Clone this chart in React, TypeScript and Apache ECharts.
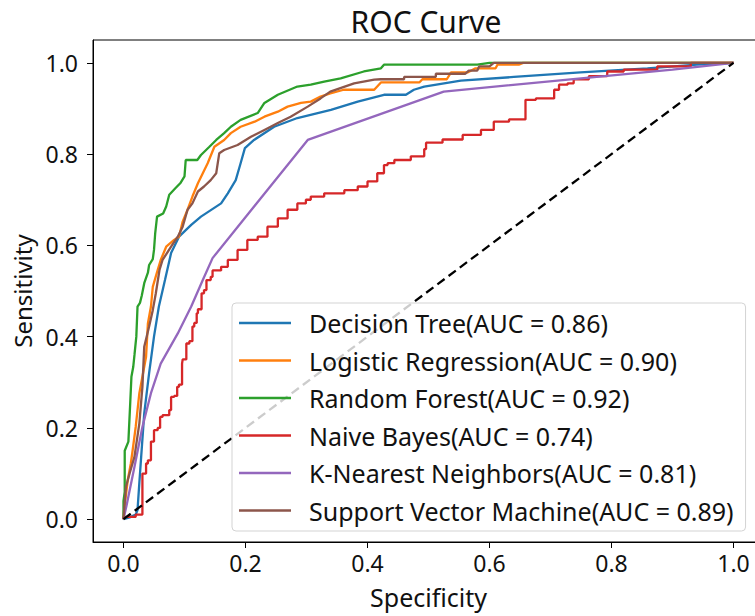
import React, { useEffect, useRef } from 'react';
import * as echarts from 'echarts';

const FONT = '"Noto Sans", "DejaVu Sans", sans-serif';

const seriesNames = [
  'Decision Tree(AUC = 0.86)',
  'Logistic Regression(AUC = 0.90)',
  'Random Forest(AUC = 0.92)',
  'Naive Bayes(AUC = 0.74)',
  'K-Nearest Neighbors(AUC = 0.81)',
  'Support Vector Machine(AUC = 0.89)',
];
const seriesColors = ['#1f77b4', '#ff7f0e', '#2ca02c', '#d62728', '#9467bd', '#8c564b'];
const tickValues = [0, 0.2, 0.4, 0.6, 0.8, 1.0];

// [fpr, tpr] pairs
const decisionTree: number[][] = [
  [0, 0], [0.01, 0.004], [0.02, 0.01], [0.023, 0.02], [0.026, 0.08], [0.029, 0.137], [0.034, 0.232],
  [0.042, 0.32], [0.05, 0.4], [0.058, 0.466], [0.068, 0.524], [0.078, 0.583], [0.091, 0.619],
  [0.111, 0.645], [0.127, 0.663], [0.16, 0.692], [0.171, 0.714], [0.184, 0.743], [0.192, 0.78],
  [0.199, 0.813], [0.214, 0.831], [0.247, 0.86], [0.285, 0.879], [0.34, 0.897], [0.384, 0.915],
  [0.427, 0.93], [0.463, 0.93], [0.476, 0.941], [0.493, 0.948], [0.553, 0.961], [0.64, 0.969],
  [0.749, 0.979], [0.859, 0.988], [0.94, 0.996], [1, 1],
];
const logisticRegression: number[][] = [
  [0, 0], [0.001, 0.02], [0.007, 0.086], [0.012, 0.122], [0.015, 0.151], [0.02, 0.202], [0.026, 0.276],
  [0.031, 0.312], [0.037, 0.356], [0.04, 0.429], [0.045, 0.466], [0.048, 0.509], [0.056, 0.546],
  [0.061, 0.568], [0.07, 0.597], [0.083, 0.612], [0.091, 0.619], [0.097, 0.652], [0.105, 0.678],
  [0.113, 0.707], [0.122, 0.736], [0.13, 0.758], [0.138, 0.78], [0.149, 0.816], [0.165, 0.831],
  [0.176, 0.846], [0.192, 0.86], [0.215, 0.871], [0.231, 0.882], [0.253, 0.893], [0.269, 0.904],
  [0.291, 0.912], [0.307, 0.915], [0.323, 0.926], [0.339, 0.933], [0.361, 0.941], [0.411, 0.941],
  [0.422, 0.957], [0.485, 0.957], [0.49, 0.964], [0.53, 0.964], [0.537, 0.979], [0.564, 0.979],
  [0.577, 0.988], [0.61, 0.988], [0.613, 0.996], [0.648, 0.996], [0.655, 1], [1, 1],
];
const randomForest: number[][] = [
  [0, 0], [0, 0.04], [0.002, 0.06], [0.002, 0.15], [0.008, 0.17], [0.011, 0.254], [0.013, 0.312],
  [0.016, 0.334], [0.018, 0.36], [0.021, 0.4], [0.023, 0.466], [0.027, 0.474], [0.03, 0.49],
  [0.034, 0.517], [0.04, 0.54], [0.042, 0.557], [0.048, 0.57], [0.05, 0.59], [0.052, 0.627],
  [0.055, 0.663], [0.065, 0.67], [0.07, 0.685], [0.075, 0.711], [0.085, 0.725], [0.093, 0.736],
  [0.1, 0.751], [0.102, 0.787], [0.121, 0.787], [0.127, 0.798], [0.14, 0.815], [0.152, 0.831],
  [0.165, 0.846], [0.176, 0.86], [0.192, 0.875], [0.22, 0.89], [0.231, 0.912], [0.253, 0.93],
  [0.285, 0.948], [0.307, 0.952], [0.329, 0.959], [0.356, 0.966], [0.394, 0.981], [0.422, 0.988],
  [0.427, 0.996], [0.58, 0.996], [0.6, 1], [1, 1],
];
const naiveBayes: number[][] = [
  [0, 0], [0.02, 0.005], [0.031, 0.01], [0.031, 0.096], [0.037, 0.1], [0.04, 0.122], [0.045, 0.129],
  [0.045, 0.166], [0.05, 0.17], [0.056, 0.195], [0.06, 0.2], [0.064, 0.224], [0.075, 0.228],
  [0.078, 0.239], [0.083, 0.268], [0.088, 0.27], [0.091, 0.29], [0.096, 0.295], [0.097, 0.341],
  [0.103, 0.35], [0.108, 0.385], [0.113, 0.39], [0.116, 0.422], [0.12, 0.43], [0.122, 0.451],
  [0.128, 0.46], [0.132, 0.495], [0.136, 0.502], [0.143, 0.524], [0.146, 0.531], [0.16, 0.545],
  [0.171, 0.553], [0.187, 0.568], [0.203, 0.59], [0.22, 0.612], [0.236, 0.619], [0.253, 0.641],
  [0.269, 0.659], [0.285, 0.678], [0.299, 0.692], [0.307, 0.7], [0.329, 0.707], [0.362, 0.714],
  [0.384, 0.721], [0.4, 0.729], [0.416, 0.74], [0.427, 0.758], [0.433, 0.776], [0.444, 0.78],
  [0.471, 0.787], [0.493, 0.795], [0.496, 0.811], [0.523, 0.825], [0.556, 0.832], [0.586, 0.842],
  [0.607, 0.853], [0.632, 0.871], [0.659, 0.876], [0.676, 0.919], [0.706, 0.922], [0.714, 0.941],
  [0.728, 0.952], [0.738, 0.955], [0.763, 0.964], [0.793, 0.971], [0.82, 0.981], [0.875, 0.985],
  [0.93, 0.992], [1, 1],
];
const kNearest: number[][] = [
  [0, 0], [0.005, 0.03], [0.018, 0.115], [0.031, 0.202], [0.045, 0.276], [0.061, 0.341],
  [0.089, 0.407], [0.111, 0.466], [0.13, 0.524], [0.146, 0.572], [0.302, 0.831], [0.525, 0.937],
  [0.75, 0.966], [0.9, 0.985], [1, 1],
];
const supportVector: number[][] = [
  [0, 0], [0.001, 0.02], [0.004, 0.071], [0.01, 0.1], [0.018, 0.137], [0.026, 0.21], [0.031, 0.29],
  [0.034, 0.378], [0.042, 0.422], [0.048, 0.458], [0.053, 0.495], [0.059, 0.546], [0.064, 0.568],
  [0.078, 0.597], [0.089, 0.619], [0.097, 0.641], [0.105, 0.678], [0.113, 0.692], [0.122, 0.718],
  [0.132, 0.729], [0.143, 0.743], [0.152, 0.758], [0.157, 0.802], [0.165, 0.809], [0.187, 0.82],
  [0.209, 0.838], [0.231, 0.853], [0.253, 0.868], [0.274, 0.882], [0.302, 0.904], [0.323, 0.922],
  [0.339, 0.937], [0.378, 0.955], [0.411, 0.963], [0.422, 0.964], [0.46, 0.964], [0.46, 0.969],
  [0.512, 0.969], [0.512, 0.976], [0.56, 0.976], [0.566, 0.983], [0.58, 0.983], [0.583, 0.992],
  [0.6, 0.992], [0.607, 1], [1, 1],
];
const chanceLine: number[][] = [[0, 0], [1, 1]];

const curves = [decisionTree, logisticRegression, randomForest, naiveBayes, kNearest, supportVector];
const stepped = [false, false, false, true, false, false];

export default function App() {
  const ref = useRef<HTMLDivElement>(null);
  useEffect(() => {
    const chart = echarts.init(ref.current as HTMLDivElement, null, { renderer: 'svg' });
    const series: any[] = curves.map((data, i) => ({
      name: seriesNames[i],
      type: 'line',
      data,
      symbol: 'none',
      step: stepped[i] ? 'start' : false,
      lineStyle: { color: seriesColors[i], width: 2.3 },
      itemStyle: { color: seriesColors[i] },
      z: 2 + i * 0.01,
    }));
    series.push({
      name: 'chance',
      type: 'line',
      data: chanceLine,
      symbol: 'none',
      lineStyle: { color: '#000', width: 2.3, type: [9, 5] },
      z: 3,
    });
    const axisLabelBase = {
      customValues: tickValues,
      formatter: (v: number) => v.toFixed(1),
      fontSize: 23,
      color: '#111',
      fontFamily: FONT,
    };
    chart.setOption({
      animation: false,
      textStyle: { fontFamily: FONT },
      title: {
        text: 'ROC Curve',
        left: 421,
        top: 1,
        textAlign: 'center',
        textStyle: { fontFamily: FONT, fontSize: 30, fontWeight: 'normal', color: '#111' },
      },
      grid: {
        left: 93,
        top: 40,
        width: 671,
        height: 502,
        show: true,
        borderColor: '#000',
        borderWidth: 1,
        backgroundColor: 'transparent',
      },
      graphic: [
        {
          type: 'rect',
          z: 50,
          silent: true,
          shape: { x: 741, y: 41, width: 40, height: 500 },
          style: { fill: '#ffffff' },
        },
      ],
      xAxis: {
        type: 'value',
        min: -0.05,
        max: 1.05,
        splitLine: { show: false },
        axisLine: { show: true, onZero: false, lineStyle: { color: '#000', width: 1 } },
        axisTick: { show: true, customValues: tickValues, length: 6, lineStyle: { color: '#000' } },
        axisLabel: { ...axisLabelBase, margin: 9 },
        name: 'Specificity',
        nameLocation: 'middle',
        nameGap: 42,
        nameTextStyle: { fontSize: 25, color: '#111', fontFamily: FONT },
      },
      yAxis: {
        type: 'value',
        min: -0.05,
        max: 1.05,
        splitLine: { show: false },
        axisLine: { show: true, onZero: false, lineStyle: { color: '#000', width: 1 } },
        axisTick: { show: true, customValues: tickValues, length: 6, lineStyle: { color: '#000' } },
        axisLabel: { ...axisLabelBase, margin: 15 },
        name: 'Sensitivity',
        nameLocation: 'middle',
        nameGap: 53,
        nameTextStyle: { fontSize: 24, color: '#111', fontFamily: FONT },
      },
      legend: {
        data: seriesNames,
        orient: 'vertical',
        left: 232,
        top: 303,
        icon: 'rect',
        itemWidth: 52,
        itemHeight: 2.5,
        itemGap: 12.5,
        padding: [7.5, 12, 8, 7],
        borderColor: '#d3d3d3',
        borderWidth: 1,
        borderRadius: 4,
        backgroundColor: 'rgba(255,255,255,0.8)',
        textStyle: { fontSize: 25, lineHeight: 25, color: '#111', fontFamily: FONT, padding: [0, 0, 0, 13] },
        selectedMode: false,
        z: 60,
      },
      series,
    });
    return () => chart.dispose();
  }, []);
  return (
    <div style={{ position: 'absolute', left: 0, top: 0, width: 755, height: 616, overflow: 'hidden' }}>
      <div ref={ref} style={{ width: 775, height: 616 }} />
    </div>
  );
}
